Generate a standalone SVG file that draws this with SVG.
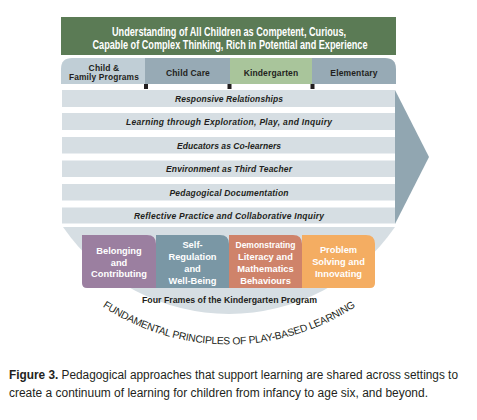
<svg xmlns="http://www.w3.org/2000/svg" width="477" height="420" viewBox="0 0 477 420">
<style>
.t{font-family:"Liberation Sans",Arial,sans-serif;font-weight:bold;text-anchor:middle}
.title{font-size:12px;fill:#ffffff}
.tab{font-size:8.5px;fill:#231f20;letter-spacing:0.15px}
.row{fill:#d6dee3}
.rt{font-size:8.5px;font-style:italic;fill:#231f20}
.fr{font-size:9.3px;fill:#ffffff}
.arc{font-family:"Liberation Sans",Arial,sans-serif;font-size:10.3px;letter-spacing:-0.25px;fill:#231f20}
.cap{font-family:"Liberation Sans",Arial,sans-serif;font-size:12px;fill:#231f20}
.tick{fill:#231f20}
</style>
<defs>
<path id="arcPath" d="M29,228 A230,230 0 0 0 429,228"/>
</defs>
<rect width="477" height="420" fill="#ffffff"/>

<g id="title">
<rect x="61" y="17" width="335" height="38" fill="#5b7b55"/>
<text class="t title" x="229" y="36" textLength="234" lengthAdjust="spacingAndGlyphs">Understanding of All Children as Competent, Curious,</text>
<text class="t title" x="230" y="49" textLength="275" lengthAdjust="spacingAndGlyphs">Capable of Complex Thinking, Rich in Potential and Experience</text>
</g>

<g id="tab-child-family">
<path d="M61,84 V69 Q61,58 72,58 H145 V84 Z" fill="#c0ced6"/>
<text class="t tab" x="104" y="70.5">Child &amp;</text>
<text class="t tab" x="104" y="80" textLength="70" lengthAdjust="spacingAndGlyphs">Family Programs</text>
</g>
<g id="tab-child-care">
<rect x="145" y="58" width="85" height="26" fill="#97aab5"/>
<text class="t tab" x="188" y="75.5">Child Care</text>
</g>
<g id="tab-kindergarten">
<rect x="230" y="58" width="82" height="26" fill="#a9c59b"/>
<text class="t tab" x="271" y="75.5">Kindergarten</text>
</g>
<g id="tab-elementary">
<path d="M312,58 H385 Q396,58 396,69 V84 H312 Z" fill="#97aab5"/>
<text class="t tab" x="354" y="75.5">Elementary</text>
</g>
<g id="ticks">
<rect class="tick" x="144" y="84" width="4" height="5"/>
<rect class="tick" x="227.5" y="84" width="4" height="5"/>
<rect class="tick" x="310.5" y="84" width="4" height="5"/>
</g>

<g id="arrow">
<polygon points="395,90 429,157 395,224" fill="#91a6b1"/>
</g>

<g id="row-1">
<rect class="row" x="62" y="90" width="333" height="17"/>
<text class="t rt" x="229" y="102" textLength="108">Responsive Relationships</text>
</g>
<g id="row-2">
<rect class="row" x="62" y="113" width="333" height="17"/>
<text class="t rt" x="229" y="125" textLength="206">Learning through Exploration, Play, and Inquiry</text>
</g>
<g id="row-3">
<rect class="row" x="62" y="137" width="333" height="16.5"/>
<text class="t rt" x="229" y="148.5" textLength="104">Educators as Co-learners</text>
</g>
<g id="row-4">
<rect class="row" x="62" y="160.5" width="333" height="16.5"/>
<text class="t rt" x="229" y="172" textLength="126">Environment as Third Teacher</text>
</g>
<g id="row-5">
<rect class="row" x="62" y="184" width="333" height="16.5"/>
<text class="t rt" x="229" y="195.5" textLength="119">Pedagogical Documentation</text>
</g>
<g id="row-6">
<rect class="row" x="62" y="207.5" width="333" height="16"/>
<text class="t rt" x="229" y="219" textLength="190">Reflective Practice and Collaborative Inquiry</text>
</g>

<g id="bowl">
<path d="M63,227 H395 A202,202 0 0 1 63,227 Z" fill="#d6dee3"/>
<text class="t" x="229.5" y="303" font-size="9.3px" fill="#231f20" textLength="175" lengthAdjust="spacingAndGlyphs">Four Frames of the Kindergarten Program</text>
</g>

<g id="frame-belonging">
<path d="M82,235 H147 Q156,235 156,244 V288 H87 Q82,288 82,283 Z" fill="#9b7fa0"/>
<text class="t fr" x="119" y="254">Belonging</text>
<text class="t fr" x="119" y="265.5">and</text>
<text class="t fr" x="119" y="277">Contributing</text>
</g>
<g id="frame-self-regulation">
<path d="M156,235 H220 Q229,235 229,244 V288 H156 Z" fill="#7a97a5"/>
<text class="t fr" x="192.5" y="247.5">Self-</text>
<text class="t fr" x="192.5" y="259.5">Regulation</text>
<text class="t fr" x="192.5" y="271.5">and</text>
<text class="t fr" x="192.5" y="283.5">Well-Being</text>
</g>
<g id="frame-demonstrating">
<path d="M229,235 H293 Q302,235 302,244 V288 H229 Z" fill="#cf836a"/>
<text class="t fr" x="265.5" y="247.5" textLength="60" lengthAdjust="spacingAndGlyphs">Demonstrating</text>
<text class="t fr" x="265.5" y="259.5">Literacy and</text>
<text class="t fr" x="265.5" y="271.5">Mathematics</text>
<text class="t fr" x="265.5" y="283.5">Behaviours</text>
</g>
<g id="frame-problem-solving">
<path d="M302,235 H366 Q375,235 375,244 V283 Q375,288 370,288 H302 Z" fill="#f4ad62"/>
<text class="t fr" x="338.5" y="252.5">Problem</text>
<text class="t fr" x="338.5" y="265">Solving and</text>
<text class="t fr" x="338.5" y="277">Innovating</text>
</g>

<g id="arc-label">
<text class="arc"><textPath href="#arcPath" startOffset="50%" text-anchor="middle">FUNDAMENTAL PRINCIPLES OF PLAY-BASED LEARNING</textPath></text>
</g>

<g id="caption">
<text class="cap" x="9" y="379" textLength="449" lengthAdjust="spacingAndGlyphs"><tspan font-weight="bold">Figure 3.</tspan> Pedagogical approaches that support learning are shared across settings to</text>
<text class="cap" x="9" y="397" textLength="419" lengthAdjust="spacingAndGlyphs">create a continuum of learning for children from infancy to age six, and beyond.</text>
</g>
</svg>
